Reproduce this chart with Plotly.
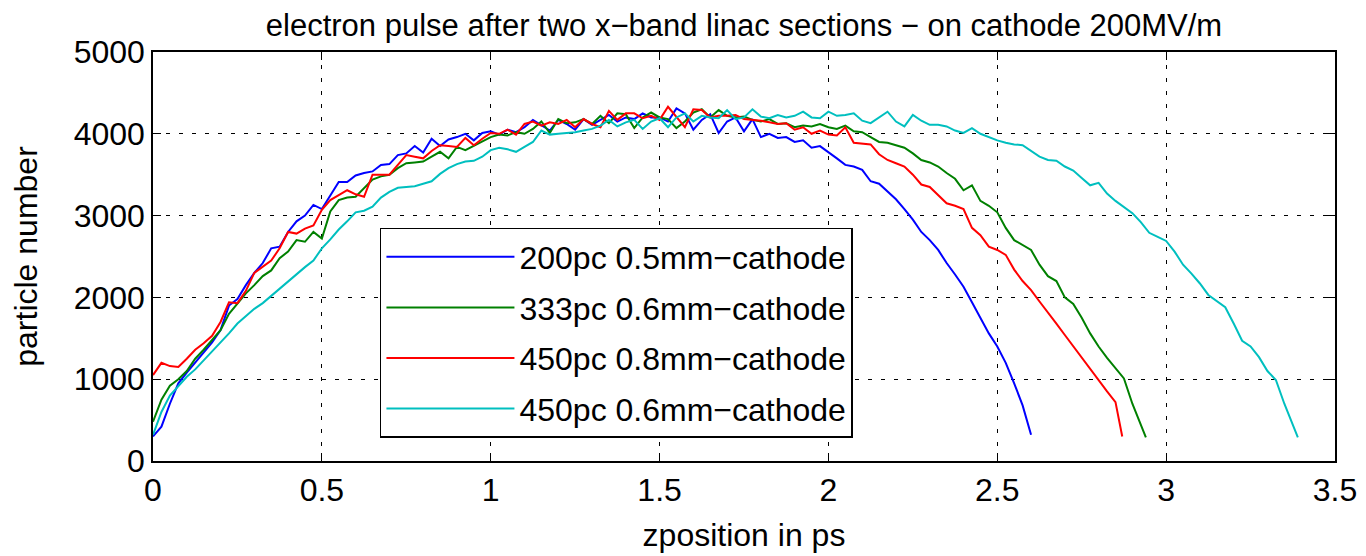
import plotly.graph_objects as go

# shared z grid (ps), step 0.025
z_grid = [
    0.000, 0.025, 0.050, 0.075, 0.100, 0.125, 0.150, 0.175, 0.200, 0.225,
    0.250, 0.275, 0.300, 0.325, 0.350, 0.375, 0.400, 0.425, 0.450, 0.475,
    0.500, 0.525, 0.550, 0.575, 0.600, 0.625, 0.650, 0.675, 0.700, 0.725,
    0.750, 0.775, 0.800, 0.825, 0.850, 0.875, 0.900, 0.925, 0.950, 0.975,
    1.000, 1.025, 1.050, 1.075, 1.100, 1.125, 1.150, 1.175, 1.200, 1.225,
    1.250, 1.275, 1.300, 1.325, 1.350, 1.375, 1.400, 1.425, 1.450, 1.475,
    1.500, 1.525, 1.550, 1.575, 1.600, 1.625, 1.650, 1.675, 1.700, 1.725,
    1.750, 1.775, 1.800, 1.825, 1.850, 1.875, 1.900, 1.925, 1.950, 1.975,
    2.000, 2.025, 2.050, 2.075, 2.100, 2.125, 2.150, 2.175, 2.200, 2.225,
    2.250, 2.275, 2.300, 2.325, 2.350, 2.375, 2.400, 2.425, 2.450, 2.475,
    2.500, 2.525, 2.550, 2.575, 2.600, 2.625, 2.650, 2.675, 2.700, 2.725,
    2.750, 2.775, 2.800, 2.825, 2.850, 2.875, 2.900, 2.925, 2.950, 2.975,
    3.000, 3.025, 3.050, 3.075, 3.100, 3.125, 3.150, 3.175, 3.200, 3.225,
    3.250, 3.275, 3.300, 3.325, 3.350, 3.375,
]

labels = [
    "200pc 0.5mm\u2212cathode",
    "333pc 0.6mm\u2212cathode",
    "450pc 0.8mm\u2212cathode",
    "450pc 0.6mm\u2212cathode",
]

blue_y = [
    300, 420, 700, 950, 1080, 1200, 1330, 1450, 1600, 1900,
    1980, 2150, 2300, 2420, 2600, 2620, 2800, 2930, 3000, 3130,
    3080, 3250, 3410, 3410, 3490, 3520, 3540, 3620, 3630, 3740,
    3760, 3850, 3770, 3940, 3850, 3930, 3960, 4000, 3920, 4010,
    4030, 3990, 4050, 4020, 4080, 4170, 4100, 4040, 4170, 4120,
    4050, 4180, 4110, 4170, 4230, 4150, 4200, 4180, 4250, 4200,
    4200, 4150, 4310, 4250, 4050, 4170, 4240, 4010, 4150, 4200,
    4030, 4180, 3960, 4000, 3950, 3960, 3900, 3920, 3830, 3850,
    3780, 3700, 3620, 3600, 3560, 3420, 3390, 3300, 3200, 3080,
    2950, 2800, 2700, 2580, 2420, 2280, 2130, 1940, 1750, 1560,
    1400, 1200, 950, 680, 320,
]
blue_end = []  # ends on grid at 2.60

green_y = [
    480, 750, 920, 1000, 1100, 1250, 1360, 1480, 1600, 1800,
    1920, 2050, 2150, 2260, 2330, 2480, 2560, 2700, 2680, 2800,
    2720, 3050, 3190, 3220, 3230, 3330, 3440, 3480, 3500, 3580,
    3640, 3650, 3660, 3720, 3780, 3700, 3840, 3800, 3850, 3910,
    3960, 3990, 3980, 4020, 4000, 4060, 4150, 4010, 4180, 4130,
    4140, 4180, 4120, 4220, 4130, 4250, 4240, 4070, 4200, 4260,
    4200, 4180, 4070, 4150, 4260, 4300, 4200, 4290, 4220, 4200,
    4210, 4170, 4150, 4180, 4120, 4130, 4080, 4100, 4090, 4120,
    4080, 4060, 4100, 4030, 4020, 3960, 3900, 3890, 3860, 3830,
    3760, 3680, 3650, 3600, 3520, 3450, 3310, 3370, 3180, 3120,
    3040, 2850, 2700, 2640, 2580, 2400, 2260, 2200, 2000, 1920,
    1750, 1560, 1400, 1260, 1130, 1010, 700, 450,
]
green_end = [(2.94, 290)]

red_y = [
    1050, 1200, 1160, 1150, 1250, 1360, 1440, 1530, 1700, 1940,
    1930, 2080, 2300, 2380, 2450, 2600, 2800, 2780, 2840, 2880,
    3070, 3190, 3250, 3310, 3260, 3230, 3500, 3500, 3500, 3620,
    3740, 3720, 3700, 3790, 3860, 3850, 3840, 3950, 3860, 3940,
    4010, 4000, 4050, 3990, 4120, 4150, 4100, 4140, 4120, 4170,
    4080, 4180, 4120, 4080, 4280, 4170, 4250, 4250, 4190, 4220,
    4170, 4330, 4200, 4080, 4300, 4290, 4200, 4220, 4220, 4230,
    4180, 4170, 4160, 4140, 4120, 4130, 4050, 4080, 4000, 4040,
    3990, 3980, 4080, 3890, 3880, 3870, 3750, 3680, 3640, 3600,
    3500, 3380, 3350, 3250, 3150, 3120, 3080, 2850, 2760, 2620,
    2580, 2520, 2340, 2200, 2090, 1950, 1820, 1680, 1540, 1400,
    1260, 1120, 990, 850, 720,
]
red_end = [(2.87, 300)]

cyan_y = [
    320, 600, 800, 920, 1030, 1120, 1230, 1330, 1440, 1560,
    1680, 1770, 1860, 1930, 2020, 2110, 2200, 2290, 2370, 2450,
    2600, 2710, 2830, 2930, 3040, 3060, 3110, 3220, 3290, 3340,
    3350, 3360, 3390, 3420, 3510, 3580, 3630, 3660, 3670, 3720,
    3800, 3830, 3810, 3780, 3840, 3900, 4040, 3990, 4000, 4010,
    4020, 4040, 4060, 4100, 4170, 4090, 4140, 4170, 4060, 4150,
    4190, 4080, 4200, 4250, 4150, 4220, 4200, 4190, 4290, 4180,
    4200, 4300, 4210, 4190, 4230, 4200, 4220, 4270, 4200, 4190,
    4270, 4220, 4230, 4250, 4160, 4130, 4200, 4270, 4150, 4090,
    4230, 4160, 4110, 4110, 4090, 4040, 4010, 4070, 4000, 3960,
    3920, 3890, 3870, 3860, 3790, 3720, 3680, 3670, 3600, 3550,
    3460, 3370, 3400, 3270, 3180, 3100, 3030, 2920, 2790, 2740,
    2690, 2560, 2400, 2290, 2170, 2030, 1950, 1880, 1680, 1470,
    1400, 1270, 1100, 990, 700, 450,
]
cyan_end = [(3.39, 290)]

colors = ["#0000FF", "#008000", "#FF0000", "#00BFBF"]
series = [
    (blue_y, blue_end),
    (green_y, green_end),
    (red_y, red_end),
    (cyan_y, cyan_end),
]

FONT = "Liberation Sans, Arial, Helvetica, sans-serif"
FS = 32

fig = go.Figure()
for i, ((ys, tail), name, col) in enumerate(zip(series, labels, colors)):
    xs = list(z_grid[:len(ys)]) + [t[0] for t in tail]
    yy = list(ys) + [t[1] for t in tail]
    fig.add_trace(go.Scatter(
        x=xs, y=yy, mode="lines", name=name,
        line=dict(color=col, width=2),
        legendgroup=f"g{i}",
    ))

axis_common = dict(
    showline=True, linecolor="black", linewidth=1.5, mirror="ticks",
    ticks="inside", ticklen=8, tickwidth=1.2, tickcolor="black",
    showgrid=True, gridcolor="black", gridwidth=1, griddash="4px,9px",
    zeroline=False, automargin=False,
    tickfont=dict(family=FONT, size=FS, color="black"),
)

fig.update_xaxes(
    range=[0, 3.5], tickvals=[0, 0.5, 1, 1.5, 2, 2.5, 3, 3.5],
    ticktext=["0", "0.5", "1", "1.5", "2", "2.5", "3", "3.5"],
    title=dict(text="zposition in ps", font=dict(family=FONT, size=FS, color="black"), standoff=16),
    **axis_common,
)
fig.update_yaxes(
    range=[0, 5000], dtick=1000,
    title=dict(text="particle number", font=dict(family=FONT, size=FS, color="black"), standoff=33),
    **axis_common,
)

fig.update_layout(
    width=1358, height=548,
    margin=dict(l=145, r=31, t=44, b=95, autoexpand=False),
    paper_bgcolor="white", plot_bgcolor="white",
    font=dict(family=FONT, size=FS, color="black"),
    title=dict(
        text="electron pulse after two x\u2212band linac sections \u2212 on cathode 200MV/m",
        x=0.5, xref="paper", xanchor="center",
        y=1 - 17 / 548, yref="container", yanchor="middle",
        font=dict(family=FONT, size=31, color="black"),
    ),
    showlegend=True,
    legend=dict(
        x=0.192, y=0.5697, xanchor="left", yanchor="top",
        bgcolor="white", bordercolor="black", borderwidth=1.5,
        font=dict(family=FONT, size=FS, color="black"),
        itemwidth=128, tracegroupgap=6,
    ),
)

fig.write_html("out.html")
